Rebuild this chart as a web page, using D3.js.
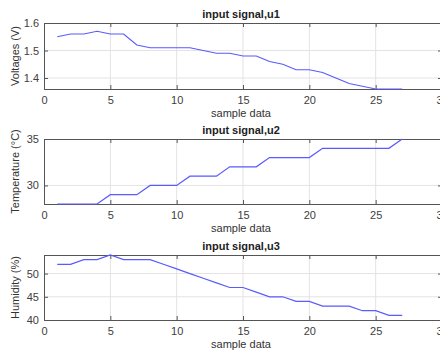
<!DOCTYPE html>
<html>
<head>
<meta charset="utf-8">
<script src="https://cdn.jsdelivr.net/npm/d3@7"></script>
<style>
  body { margin: 0; background: #fff; }
  svg { display: block; font-family: "Liberation Sans", Arial, sans-serif; }
  .tick text { fill: #404040; font-size: 11px; }
</style>
</head>
<body>
<svg id="chart" width="440" height="351"></svg>
<script>
const samples = d3.range(1, 28);
const voltage = [1.55, 1.56, 1.56, 1.57, 1.56, 1.56, 1.52, 1.51, 1.51, 1.51, 1.51, 1.50, 1.49, 1.49,
  1.48, 1.48, 1.46, 1.45, 1.43, 1.43, 1.42, 1.40, 1.38, 1.37, 1.36, 1.36, 1.36];
const temperature = [28, 28, 28, 28, 29, 29, 29, 30, 30, 30, 31, 31, 31, 32, 32, 32, 33, 33, 33, 33,
  34, 34, 34, 34, 34, 34, 35];
const humidity = [52, 52, 53, 53, 54, 53, 53, 53, 52, 51, 50, 49, 48, 47, 47, 46, 45, 45, 44, 44,
  43, 43, 43, 42, 42, 41, 41];
const xTicks = [0, 5, 10, 15, 20, 25, 30];

const panels = [
  { title: "input signal,u1", ylabel: "Voltages (V)", values: voltage, domain: [1.36, 1.6], ticks: [1.4, 1.5, 1.6], fmt: d3.format(".1f"), top: 23, bottom: 89 },
  { title: "input signal,u2", ylabel: "Temperature (°C)", values: temperature, domain: [28, 35], ticks: [30, 35], fmt: d3.format("d"), top: 139, bottom: 204 },
  { title: "input signal,u3", ylabel: "Humidity (%)", values: humidity, domain: [40, 54], ticks: [40, 45, 50], fmt: d3.format("d"), top: 255, bottom: 320 }
];

const left = 44, right = 442;
const svg = d3.select("#chart");

const x = d3.scaleLinear().domain([0, 30]).range([left, right]);

panels.forEach(p => {
  const y = d3.scaleLinear().domain(p.domain).range([p.bottom, p.top]);
  const g = svg.append("g");

  // grid
  g.append("g").selectAll("line").data(xTicks.slice(1, -1)).join("line")
    .attr("x1", d => x(d)).attr("x2", d => x(d))
    .attr("y1", p.top).attr("y2", p.bottom)
    .attr("stroke", "#e3e3e3");
  g.append("g").selectAll("line").data(p.ticks.filter(t => t > p.domain[0] && t < p.domain[1])).join("line")
    .attr("x1", left).attr("x2", right)
    .attr("y1", d => y(d)).attr("y2", d => y(d))
    .attr("stroke", "#e3e3e3");

  // axes
  const ax = g.append("g")
    .attr("transform", `translate(0,${p.bottom})`)
    .call(d3.axisBottom(x).tickValues(xTicks).tickSize(-4).tickPadding(7));
  const ay = g.append("g")
    .attr("transform", `translate(${left},0)`)
    .call(d3.axisLeft(y).tickValues(p.ticks).tickFormat(p.fmt).tickSize(-4).tickPadding(5));
  g.append("g")
    .attr("transform", `translate(0,${p.top})`)
    .call(d3.axisTop(x).tickValues(xTicks).tickSize(-4).tickFormat(""));
  g.append("g")
    .attr("transform", `translate(${right},0)`)
    .call(d3.axisRight(y).tickValues(p.ticks).tickSize(-4).tickFormat(""));
  g.selectAll(".domain, .tick line").attr("stroke", "#555");

  // line
  const line = d3.line().x((d, i) => x(samples[i])).y(d => y(d));
  g.append("path").datum(p.values)
    .attr("d", line)
    .attr("fill", "none")
    .attr("stroke", "#5a5aff")
    .attr("stroke-width", 1.2);

  // title
  g.append("text")
    .attr("x", (left + right) / 2 - 2).attr("y", p.top - 5)
    .attr("text-anchor", "middle")
    .attr("font-size", 11).attr("font-weight", "bold")
    .attr("fill", "#222")
    .text(p.title);

  // x label
  g.append("text")
    .attr("x", (left + right) / 2 - 2).attr("y", p.bottom + 28)
    .attr("text-anchor", "middle")
    .attr("font-size", 11).attr("fill", "#333")
    .text("sample data");

  // y label
  g.append("text")
    .attr("transform", `translate(19,${(p.top + p.bottom) / 2}) rotate(-90)`)
    .attr("text-anchor", "middle")
    .attr("font-size", 11).attr("fill", "#333")
    .text(p.ylabel);
});
</script>
</body>
</html>
